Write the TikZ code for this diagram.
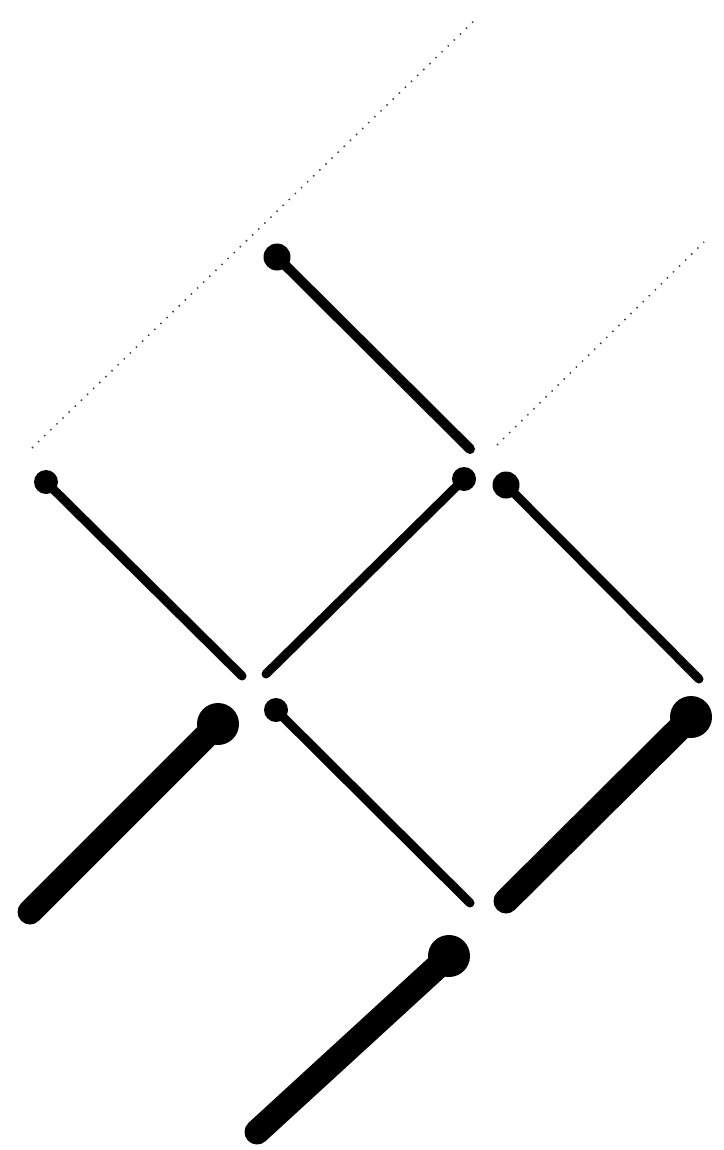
\documentclass[tikz,border=0pt]{standalone}
\begin{document}
\begin{tikzpicture}[x=1pt,y=-1pt,
  ballM/.style={circle,fill=black,inner sep=0pt,minimum size=27pt},
  ballS/.style={circle,fill=black,inner sep=0pt,minimum size=24pt},
  ballL/.style={circle,fill=black,inner sep=0pt,minimum size=42pt},
  pinM/.style={line width=10pt,line cap=round},
  pinS/.style={line width=9pt,line cap=round},
  pinL/.style={line width=25pt,line cap=round},
  faint/.style={line width=1.5pt,dash pattern=on 1.5pt off 7pt,black!75}]
\useasboundingbox (0,0) rectangle (723,1150);
% faint dotted guide lines
\coordinate (d1a) at (32,448);
\coordinate (d1b) at (475,20);
\coordinate (d2a) at (497,445);
\coordinate (d2b) at (704,242);
\draw[faint] (d1a) -- (d1b);
\draw[faint] (d2a) -- (d2b);
% pins: ball + shaft
\node[ballM] (b1) at (277,257) {};
\coordinate (e1) at (470,449);
\draw[pinM] (b1.center) -- (e1);

\node[ballS] (b2) at (46,482) {};
\coordinate (e2) at (242,676);
\draw[pinS] (b2.center) -- (e2);

\node[ballS] (b3) at (464,479) {};
\coordinate (e3) at (266,674);
\draw[pinS] (b3.center) -- (e3);

\node[ballM] (b4) at (506,485) {};
\coordinate (e4) at (699,679);
\draw[pinS] (b4.center) -- (e4);

\node[ballL] (b5) at (218,724) {};
\coordinate (e5) at (30,912);
\draw[pinL] (b5.center) -- (e5);

\node[ballS] (b6) at (276,710) {};
\coordinate (e6) at (470,903);
\draw[pinS] (b6.center) -- (e6);

\node[ballL] (b7) at (691,717) {};
\coordinate (e7) at (506,901);
\draw[pinL] (b7.center) -- (e7);

\node[ballL] (b8) at (449,956) {};
\coordinate (e8) at (257,1132);
\draw[pinL] (b8.center) -- (e8);
\end{tikzpicture}
\end{document}
